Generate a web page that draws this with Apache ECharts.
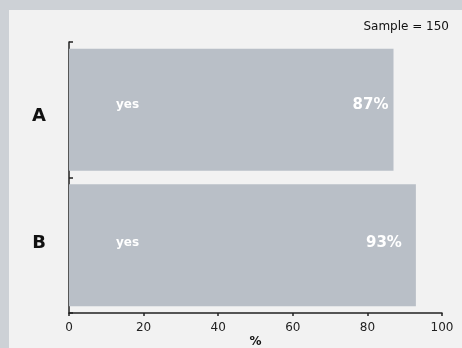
<!DOCTYPE html>
<html>
<head>
<meta charset="utf-8">
<script src="https://cdn.jsdelivr.net/npm/echarts@6/dist/echarts.min.js"></script>
<style>
  html, body { margin: 0; padding: 0; }
  body { width: 462px; height: 348px; background: #cdd1d6; position: relative; overflow: hidden; }
  #panel { position: absolute; left: 9px; top: 10px; width: 453px; height: 338px; background: #f2f2f2; }
</style>
</head>
<body>
<div id="panel"></div>
<script>
// Survey groups and share of "yes" answers (%)
var categories = ['A', 'B'];
var yesShare = [87, 93];
var answerText = ['yes', 'yes'];
var sampleSize = 150;
var xTicks = { min: 0, max: 100, step: 20 };

// Label placement tweaks (pixels)
var valueLabelInset = [5, 14];
var valueLabelLift = [-5, -2];
var catLabelPad = [[14, 0, 0, 0], [0, 0, 4, 0]];

var FONT = '"DejaVu Sans", sans-serif';
var BAR = '#b9bfc7';
var INK = '#111111';

var chart = echarts.init(document.getElementById('panel'), null, { renderer: 'canvas' });

var richCat = {};
categories.forEach(function (c, i) {
  richCat['c' + i] = {
    fontFamily: FONT, fontWeight: 'bold', fontSize: 18, color: INK,
    padding: catLabelPad[i]
  };
});

var valueData = yesShare.map(function (v, i) {
  return {
    value: v,
    label: { distance: valueLabelInset[i], offset: [0, valueLabelLift[i]] }
  };
});
var answerData = yesShare.map(function (v, i) {
  return {
    value: v,
    label: { formatter: answerText[i], offset: [0, valueLabelLift[i]] }
  };
});

chart.setOption({
  animation: false,
  grid: { left: 60, right: 20, top: 32, bottom: 35, containLabel: false, outerBoundsMode: 'none' },
  xAxis: {
    type: 'value',
    min: xTicks.min, max: xTicks.max, interval: xTicks.step,
    name: '%', nameLocation: 'middle', nameGap: 23, nameMoveOverlap: false,
    nameTextStyle: { fontFamily: FONT, fontSize: 12, color: INK, fontWeight: 'bold' },
    axisLine: { show: true, lineStyle: { color: '#222', width: 1.5 } },
    axisTick: { show: true, length: 3, lineStyle: { color: '#222', width: 1.5 } },
    axisLabel: { fontFamily: FONT, fontSize: 12, color: '#222', margin: 9 },
    splitLine: { show: false }
  },
  yAxis: {
    type: 'category',
    data: categories,
    inverse: true,
    axisLine: { show: true, lineStyle: { color: '#222', width: 1.5 } },
    axisTick: { show: true, inside: true, length: 4, lineStyle: { color: '#222', width: 1.5 } },
    axisLabel: {
      margin: 23,
      formatter: function (v) { return '{c' + categories.indexOf(v) + '|' + v + '}'; },
      rich: richCat
    }
  },
  series: [
    {
      type: 'bar',
      data: valueData,
      barCategoryGap: '10%',
      itemStyle: { color: BAR },
      label: {
        show: true, position: 'insideRight',
        formatter: '{c}%',
        fontFamily: FONT, fontWeight: 'bold', fontSize: 15, color: '#ffffff'
      },
      z: 2
    },
    {
      type: 'bar',
      data: answerData,
      barGap: '-100%',
      barCategoryGap: '10%',
      itemStyle: { color: 'rgba(0,0,0,0)' },
      label: {
        show: true, position: 'insideLeft', distance: 47,
        fontFamily: FONT, fontWeight: 'bold', fontSize: 12, color: '#ffffff'
      },
      z: 3
    }
  ],
  graphic: [{
    type: 'text',
    right: 13, top: 11,
    style: { text: 'Sample = ' + sampleSize, fontFamily: FONT, fontSize: 12, fill: INK }
  }]
});
</script>
</body>
</html>
